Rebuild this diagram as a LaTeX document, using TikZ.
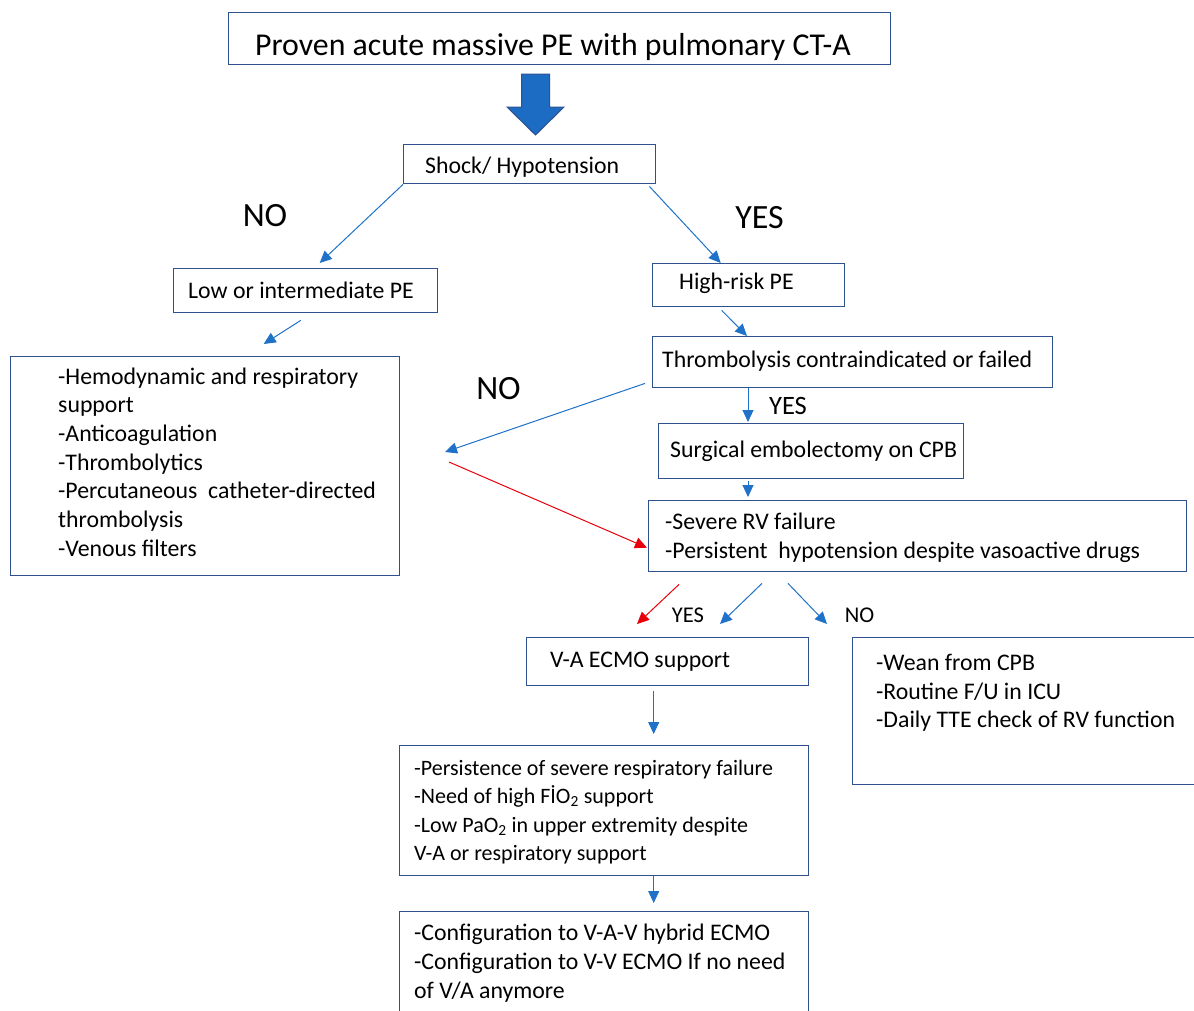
\documentclass[tikz,border=0pt]{standalone}
\usepackage{fontspec}
\setmainfont{Carlito}
\usetikzlibrary{arrows.meta,calc}
\definecolor{PEBox}{HTML}{2F528F}
\definecolor{PEArrow}{HTML}{1F72C8}
\definecolor{PEFill}{HTML}{1C6CC4}
\definecolor{PERed}{HTML}{E8000B}

\begin{document}
\begin{tikzpicture}[x=1pt,y=-1pt,
  box/.style={draw=PEBox,line width=1.4pt,anchor=north west,inner sep=0pt},
  txt/.style={inner sep=0pt,align=left,font=\fontsize{23.8}{28.7}\selectfont},
  small/.style={inner sep=0pt,align=left,font=\fontsize{22}{28.3}\selectfont},
  lab/.style={inner sep=0pt,anchor=base},
  link/.style={PEArrow,line width=1pt,-{Triangle[length=12pt,width=11pt]}},
  redlink/.style={link,PERed}]
\path[use as bounding box] (0,0) rectangle (1194,1010);
\fill[white] (0,0) rectangle (1194,1010);

\node[box,minimum width=662pt,minimum height=52pt] (title) at (228,12) {};
\node[txt,anchor=base west,font=\fontsize{31.8}{37}\selectfont] (titletxt) at (255,55) {Proven acute massive PE with pulmonary CT-A};
\filldraw[fill=PEFill,draw=PEBox,line width=1pt] (521.5,74) -- (549.5,74) -- (549.5,107) -- (564,107) -- (535.5,135) -- (507,107) -- (521.5,107) -- cycle;

\node[box,minimum width=252pt,minimum height=39pt] (shock) at (403,144) {};
\node[txt,anchor=base west] (shocktxt) at (425,173) {Shock/ Hypotension};
\node[box,minimum width=264pt,minimum height=44pt] (low) at (173,268) {};
\node[txt,anchor=base west] (lowtxt) at (188,298) {Low or intermediate PE};
\node[box,minimum width=192pt,minimum height=43pt] (high) at (652,263) {};
\node[txt,anchor=base west] (hightxt) at (679,289) {High-risk PE};
\node[box,minimum width=400pt,minimum height=51pt] (thromb) at (652,336) {};
\node[txt,anchor=base west] (thrombtxt) at (662,367) {Thrombolysis contraindicated or failed};
\node[box,minimum width=305pt,minimum height=55pt] (surg) at (658,423) {};
\node[txt,anchor=base west] (surgtxt) at (670,457) {Surgical embolectomy on CPB};
\node[box,minimum width=538pt,minimum height=71pt] (severe) at (648,500) {};
\node[txt,anchor=west] (severetxt) at (665,538) {-Severe RV failure\\-Persistent~ hypotension despite vasoactive drugs};
\node[box,minimum width=389pt,minimum height=219pt] (support) at (10,356) {};
\node[txt,anchor=west] (supporttxt) at (58,462) {-Hemodynamic and respiratory\\support\\-Anticoagulation\\-Thrombolytics\\-Percutaneous~ catheter-directed\\thrombolysis\\-Venous filters};
\node[box,minimum width=282pt,minimum height=48pt] (va) at (526,637) {};
\node[txt,anchor=base west] (vatxt) at (550,667) {V-A ECMO support};
\node[box,minimum width=370pt,minimum height=147pt] (wean) at (852,637) {};
\node[txt,anchor=west] (weantxt) at (876,693) {-Wean from CPB\\-Routine F/U in ICU\\-Daily TTE check of RV function};
\node[box,minimum width=409pt,minimum height=130pt] (persist) at (399,745) {};
\node[small,anchor=west] (persisttxt) at (414,812) {-Persistence of severe respiratory failure\\-Need of high FİO\textsubscript{2} support\\-Low PaO\textsubscript{2} in upper extremity despite\\V-A or respiratory support};
\node[box,minimum width=409pt,minimum height=120pt] (config) at (399,911) {};
\node[txt,anchor=west,font=\fontsize{23.8}{29}\selectfont] (configtxt) at (414,963) {-Configuration to V-A-V hybrid ECMO\\-Configuration to V-V ECMO If no need\\of V/A anymore};

\node[lab,font=\fontsize{34}{40}\selectfont] (nobig) at (265,226) {NO};
\node[lab,font=\fontsize{34}{40}\selectfont] (yesbig) at (759.5,228) {YES};
\node[lab,font=\fontsize{34}{40}\selectfont] (nomid) at (498.5,399) {NO};
\node[lab,font=\fontsize{26.5}{32}\selectfont] (yesmid) at (788,414) {YES};
\node[lab,font=\fontsize{22.5}{27}\selectfont] (yeslow) at (688,622) {YES};
\node[lab,font=\fontsize{22.5}{27}\selectfont] (nolow) at (859.5,622) {NO};

\coordinate (nojoin) at (447,457);
\draw[link] (shock.south west) -- ($(low.north)+(14,-5)$);
\draw[link] ($(low.south)+(-5,7)$) -- ($(support.north)+(58.5,-12)$);
\draw[link] ($(shock.south east)+(-7,2)$) -- ($(high.north)+(-28,0)$);
\draw[link] ($(high.south)+(-27,3)$) -- ($(thromb.north west)+(95,0)$);
\draw[link] ($(thromb.south west)+(96,0)$) -- ($(surg.north west)+(90,-1)$);
\draw[link] ($(surg.south west)+(90,2)$) -- ($(severe.north west)+(100,-3)$);
\draw[link] ($(thromb.south west)+(-7,-5)$) -- ($(nojoin)+(-2,-5)$);
\draw[redlink] ($(nojoin)+(2,5)$) -- ($(severe.west)+(-1,11.5)$);
\draw[redlink] ($(severe.south west)+(31,12)$) -- ($(va.north west)+(111,-13)$);
\draw[link] ($(severe.south west)+(114,11)$) -- ($(va.north west)+(194,-13)$);
\draw[link] ($(severe.south west)+(140,11)$) -- ($(wean.north west)+(-25,-13)$);
\draw[link] ($(va.south)+(-14,5)$) -- ($(persist.north)+(49.5,-11)$);
\draw[link] ($(persist.south)+(49.5,0)$) -- ($(config.north)+(49.5,-8)$);
\end{tikzpicture}
\end{document}
